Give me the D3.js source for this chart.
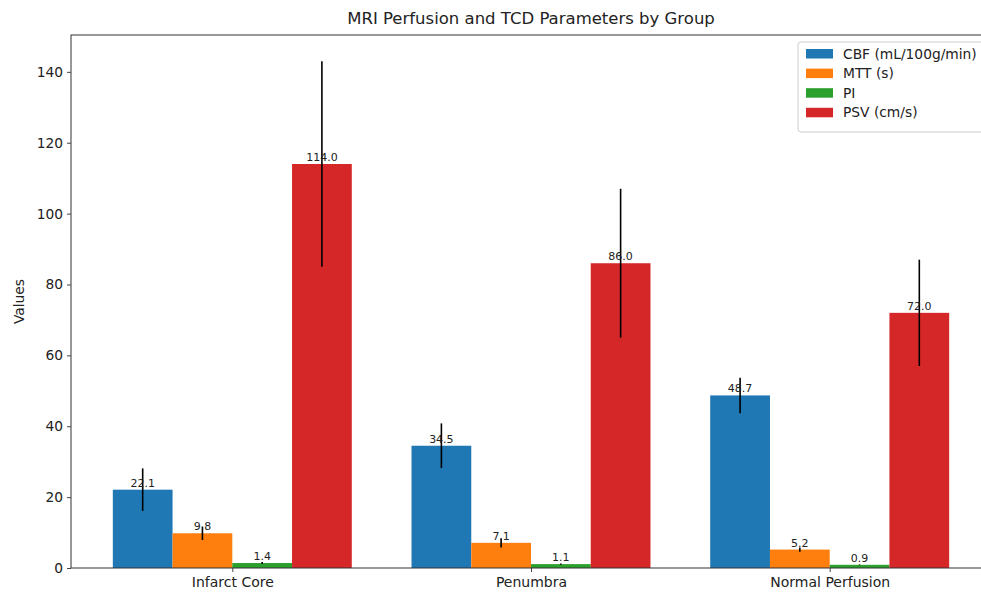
<!DOCTYPE html>
<html>
<head>
<meta charset="utf-8">
<script src="https://cdn.jsdelivr.net/npm/d3@7"></script>
<style>
  body { margin: 0; background: #fff; }
  text { font-family: "DejaVu Sans", sans-serif; fill: #222; }
</style>
</head>
<body>
<div id="chart"></div>
<script>
"use strict";

// data
var groups = ["Infarct Core", "Penumbra", "Normal Perfusion"];
var seriesNames = ["CBF (mL/100g/min)", "MTT (s)", "PI", "PSV (cm/s)"];
var seriesColors = ["#1f77b4", "#ff7f0e", "#2ca02c", "#d62728"];
var cbf = [22.1, 34.5, 48.7];
var mtt = [9.8, 7.1, 5.2];
var pi = [1.4, 1.1, 0.9];
var psv = [114.0, 86.0, 72.0];
var cbfErr = [6.0, 6.3, 5.0];
var mttErr = [1.9, 1.3, 0.6];
var piErr = [0.3, 0.2, 0.1];
var psvErr = [29.0, 21.0, 15.0];
var yTicks = [0, 20, 40, 60, 80, 100, 120, 140];

var values = [cbf, mtt, pi, psv];
var errors = [cbfErr, mttErr, piErr, psvErr];

var width = 981, height = 592;
var plotLeft = 71, plotRight = 991, plotTop = 35, plotBottom = 568;
var barW = 0.2;

var svg = d3.select("#chart").append("svg")
  .attr("width", width)
  .attr("height", height);

// x in "group units", like matplotlib's arange
var x = d3.scaleLinear().domain([-0.54, 2.54]).range([plotLeft, plotRight]);
var y = d3.scaleLinear().domain([0, 150.4]).range([plotBottom, plotTop]);

// bars
values.forEach(function(vals, s) {
  var off = (s - 1.5) * barW;
  var g = svg.append("g");
  g.selectAll("rect").data(vals).enter().append("rect")
    .attr("x", function(d, i) { return x(i + off - barW / 2); })
    .attr("width", function() { return x(barW) - x(0); })
    .attr("y", function(d) { return y(d); })
    .attr("height", function(d) { return y(0) - y(d); })
    .style("fill", seriesColors[s]);

  // error bars
  g.selectAll("line").data(vals).enter().append("line")
    .attr("x1", function(d, i) { return x(i + off); })
    .attr("x2", function(d, i) { return x(i + off); })
    .attr("y1", function(d, i) { return y(d - errors[s][i]); })
    .attr("y2", function(d, i) { return y(d + errors[s][i]); })
    .style("stroke", "#000")
    .style("stroke-width", 1.6);

  // value labels
  g.selectAll("text").data(vals).enter().append("text")
    .attr("x", function(d, i) { return x(i + off); })
    .attr("y", function(d) { return y(d) - 3; })
    .attr("text-anchor", "middle")
    .style("font-size", "11px")
    .text(function(d) { return d.toFixed(1); });
});

// axes
var yAxis = svg.append("g")
  .attr("transform", "translate(" + plotLeft + ",0)")
  .call(d3.axisLeft(y).tickValues(yTicks).tickSize(4).tickPadding(4));
yAxis.selectAll("text").style("font-size", "13.8px");

var xAxis = svg.append("g")
  .attr("transform", "translate(0," + plotBottom + ")")
  .call(d3.axisBottom(x).tickValues([0, 1, 2]).tickSize(4).tickPadding(5)
    .tickFormat(function(d) { return groups[d]; }));
xAxis.selectAll("text").style("font-size", "14px");

svg.selectAll(".domain").remove();
svg.selectAll(".tick line").style("stroke", "#333").style("stroke-width", 0.9);

// frame
svg.append("rect")
  .attr("x", plotLeft).attr("y", plotTop)
  .attr("width", plotRight - plotLeft).attr("height", plotBottom - plotTop)
  .style("fill", "none").style("stroke", "#333").style("stroke-width", 1);

// title and y label
svg.append("text")
  .attr("x", 531).attr("y", 24)
  .attr("text-anchor", "middle")
  .style("font-size", "16.5px")
  .text("MRI Perfusion and TCD Parameters by Group");

svg.append("text")
  .attr("transform", "translate(24," + ((plotTop + plotBottom) / 2) + ") rotate(-90)")
  .attr("text-anchor", "middle")
  .style("font-size", "13.8px")
  .text("Values");

// legend
var legend = svg.append("g").attr("transform", "translate(798,42)");
legend.append("rect")
  .attr("width", 200).attr("height", 90).attr("rx", 3)
  .style("fill", "#fff").style("stroke", "#ccc");
seriesNames.forEach(function(name, i) {
  legend.append("rect")
    .attr("x", 8).attr("y", 7 + i * 19.6)
    .attr("width", 27).attr("height", 9.5)
    .style("fill", seriesColors[i]);
  legend.append("text")
    .attr("x", 45).attr("y", 16.5 + i * 19.6)
    .style("font-size", "13.8px")
    .text(name);
});
</script>
</body>
</html>
